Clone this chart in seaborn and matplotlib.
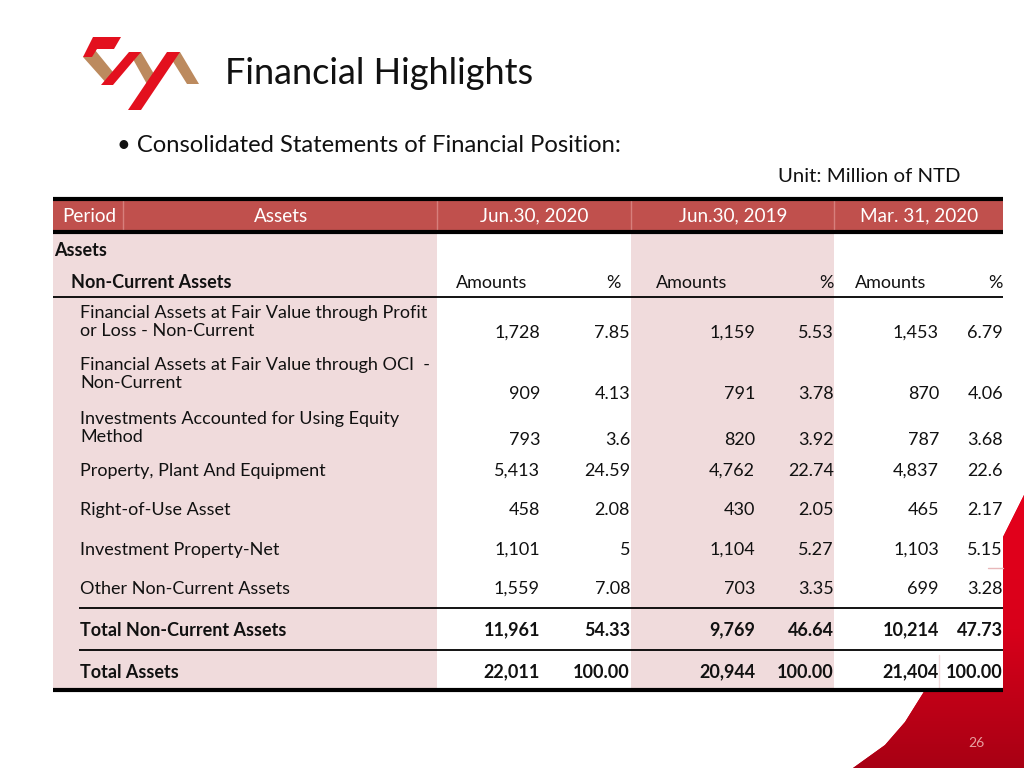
import numpy as np
import matplotlib
matplotlib.use("Agg")
import matplotlib.pyplot as plt
from matplotlib.patches import Polygon, Rectangle
from matplotlib.colors import LinearSegmentedColormap
import seaborn as sns

sns.set_theme(style="white")
plt.rcParams['font.family'] = ['Lato', 'DejaVu Sans']

# ---- table data ----
periods = ["Jun.30, 2020", "Jun.30, 2019", "Mar. 31, 2020"]
row_labels = [
    "Financial Assets at Fair Value through Profit\nor Loss - Non-Current",
    "Financial Assets at Fair Value through OCI  -\nNon-Current",
    "Investments Accounted for Using Equity\nMethod",
    "Property, Plant And Equipment",
    "Right-of-Use Asset",
    "Investment Property-Net",
    "Other Non-Current Assets",
    "Total Non-Current Assets",
    "Total Assets",
]
amt_jun2020 = [1728, 909, 793, 5413, 458, 1101, 1559, 11961, 22011]
pct_jun2020 = ["7.85", "4.13", "3.6", "24.59", "2.08", "5", "7.08", "54.33", "100.00"]
amt_jun2019 = [1159, 791, 820, 4762, 430, 1104, 703, 9769, 20944]
pct_jun2019 = ["5.53", "3.78", "3.92", "22.74", "2.05", "5.27", "3.35", "46.64", "100.00"]
amt_mar2020 = [1453, 870, 787, 4837, 465, 1103, 699, 10214, 21404]
pct_mar2020 = ["6.79", "4.06", "3.68", "22.6", "2.17", "5.15", "3.28", "47.73", "100.00"]
bold_rows = [7, 8]

# ---- layout (pixels) ----
label_y = [322, 374, 428, 471, 510, 550, 589, 630, 672]
value_y = [333, 394, 440, 471, 510, 550, 589, 630, 672]
amt_right = [540, 755, 939]
pct_right = [630, 834, 1003]
amounts_left = [456, 656, 855]
period_cx = [534, 733, 919]

PINK = "#F0DBDC"
HEAD = "#C0504D"
INK = "#111111"
FS = 13

fig = plt.figure(figsize=(10.24, 7.68), dpi=100)
ax = fig.add_axes([0, 0, 1, 1])
ax.set_xlim(0, 1024)
ax.set_ylim(768, 0)
ax.axis("off")

# red swoosh bottom-right: solid base + gradient on top
curve = [(1024, 495), (1003, 537), (980, 582), (955, 632), (925, 690),
         (905, 722), (885, 745), (853, 768), (1024, 768)]
ax.add_patch(Polygon(curve, closed=True, facecolor="#D8001A", edgecolor="none", zorder=0.1))
clip = Polygon(curve, closed=True, facecolor="none", edgecolor="none", transform=ax.transData)
grad = np.linspace(0, 1, 256).reshape(-1, 1)
cm = LinearSegmentedColormap.from_list("sw", ["#E6001C", "#D8001A", "#A80014"])
im = ax.imshow(grad, cmap=cm, extent=(840, 1024, 768, 490), aspect="auto", zorder=0.2)
im.set_clip_path(clip)
ax.set_xlim(0, 1024)
ax.set_ylim(768, 0)

# logo
bronze = "#BC8A5E"
red = "#E3101E"
logo_bronze = [
    [(83, 57), (95, 50), (117, 77), (108, 85)],
    [(129, 52), (141, 52), (157, 79), (148, 86)],
    [(167, 52), (180, 52), (199, 84), (187, 84)],
]
logo_red = [
    [(93, 37), (121, 37), (114, 49), (97, 49), (92, 57), (83, 57)],
    [(101, 85), (113, 85), (141, 52), (129, 52)],
    [(128, 110), (141, 110), (180, 52), (167, 52)],
]
for pts in logo_bronze:
    ax.add_patch(Polygon(pts, closed=True, facecolor=bronze, edgecolor="none", zorder=3))
for pts in logo_red:
    ax.add_patch(Polygon(pts, closed=True, facecolor=red, edgecolor="none", zorder=3))

# titles
ax.text(225, 73, "Financial Highlights", fontsize=26, va="center", ha="left", color=INK)
ax.text(117, 145, "• Consolidated Statements of Financial Position:", fontsize=17.1,
        va="center", ha="left", color=INK)
ax.text(961, 176, "Unit: Million of NTD", fontsize=14.7, va="center", ha="right", color=INK)

# table background
ax.add_patch(Rectangle((437, 232), 566, 458, facecolor="white", edgecolor="none", zorder=1))
ax.add_patch(Rectangle((53, 232), 384, 458, facecolor=PINK, edgecolor="none", zorder=1))
ax.add_patch(Rectangle((631, 232), 203, 458, facecolor=PINK, edgecolor="none", zorder=1))
ax.add_patch(Rectangle((53, 199), 950, 33, facecolor=HEAD, edgecolor="none", zorder=1))
for x in [123, 437, 631, 834]:
    ax.plot([x, x], [200, 231], color="#D77F7C", lw=1, zorder=2)
ax.plot([939, 939], [655, 690], color=PINK, lw=1, zorder=2)
ax.plot([988, 1003], [568, 568], color="#E8B8BA", lw=1, zorder=2)

# header text
HFS = 13.6
ax.text(62, 216, "Period", color="white", fontsize=HFS, va="center", ha="left", zorder=4)
ax.text(281, 216, "Assets", color="white", fontsize=HFS, va="center", ha="center", zorder=4)
for cx, p in zip(period_cx, periods):
    ax.text(cx, 216, p, color="white", fontsize=HFS, va="center", ha="center", zorder=4)

# rules
ax.plot([53, 1003], [199, 199], color="black", lw=3, zorder=3, solid_capstyle="butt")
ax.plot([53, 1003], [232, 232], color="black", lw=3, zorder=3, solid_capstyle="butt")
ax.plot([53, 1003], [297, 297], color="black", lw=1.3, zorder=3, solid_capstyle="butt")
ax.plot([79, 1003], [608, 608], color="black", lw=1.3, zorder=3, solid_capstyle="butt")
ax.plot([79, 1003], [650, 650], color="black", lw=1.3, zorder=3, solid_capstyle="butt")
ax.plot([53, 1003], [690, 690], color="black", lw=3, zorder=3, solid_capstyle="butt")

# section labels
ax.text(54, 250, "Assets", fontsize=FS, fontweight="bold", va="center", ha="left", zorder=4, color=INK)
ax.text(71, 283, "Non-Current Assets", fontsize=FS, fontweight="bold", va="center", ha="left",
        zorder=4, color=INK)
for xl, xr in zip(amounts_left, pct_right):
    ax.text(xl, 283, "Amounts", fontsize=FS, va="center", ha="left", zorder=4, color=INK)
    ax.text(xr - 9 if xr == 630 else xr, 283, "%", fontsize=FS, va="center", ha="right",
            zorder=4, color=INK)

# rows
amounts = [amt_jun2020, amt_jun2019, amt_mar2020]
pcts = [pct_jun2020, pct_jun2019, pct_mar2020]
for i, lab in enumerate(row_labels):
    w = "bold" if i in bold_rows else "normal"
    ax.text(80, label_y[i], lab, fontsize=FS, fontweight=w, va="center", ha="left",
            linespacing=1.1, zorder=4, color=INK)
    for k in range(3):
        ax.text(amt_right[k], value_y[i], f"{amounts[k][i]:,}", fontsize=FS, fontweight=w,
                va="center", ha="right", zorder=4, color=INK)
        ax.text(pct_right[k], value_y[i], pcts[k][i], fontsize=FS, fontweight=w,
                va="center", ha="right", zorder=4, color=INK)

ax.text(976, 743, "26", fontsize=10, color="#E8A0A0", va="center", ha="center", zorder=4)

fig.savefig("out.png", dpi=100)
